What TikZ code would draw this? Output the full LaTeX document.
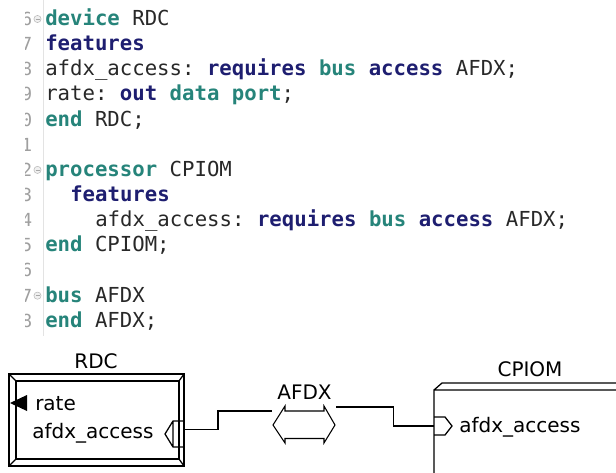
\documentclass[tikz,border=0pt]{standalone}
\usepackage{fontspec}
\setmainfont{DejaVu Sans}
\newfontfamily\codefont{DejaVu Sans Mono}
\definecolor{kwteal}{RGB}{38,132,122}
\definecolor{kwnavy}{RGB}{30,30,112}
\definecolor{codetext}{RGB}{40,40,40}
\newcommand{\kwt}[1]{\textcolor{kwteal}{\bfseries #1}}
\newcommand{\kwn}[1]{\textcolor{kwnavy}{\bfseries #1}}
\frenchspacing

\begin{document}
\begin{tikzpicture}[x=0.75pt,y=-0.75pt]
        \tikzstyle{code}=[anchor=base west,inner sep=0pt,text=codetext,font=\codefont\fontsize{15.5}{18}\selectfont];
        \tikzstyle{lnum}=[anchor=base east,inner sep=0pt,text=gray!75,font=\codefont\fontsize{13.5}{15}\selectfont];
        \tikzstyle{lbl}=[inner sep=0pt,font=\fontsize{15}{18}\selectfont];
        \tikzstyle{wire}=[line width=0.95pt];
        \useasboundingbox[fill=white] (0,0) rectangle (616,473);

        % editor margin
        \begin{scope}
          \clip (25,0) rectangle (43,340);
          \foreach \n [count=\i] in {6,7,8,9,0,1,2,3,4,5,6,7,8}{
            \node[lnum](num\i) at (32.5,{25.5+25.15*(\i-1)}) {\n};
          }
        \end{scope}
        \foreach \i in {1,7,12}{
          \draw[gray!55,fill=gray!12] (37.5,{19+25.15*(\i-1)}) circle (3.6);
          \draw[gray!70] (35.5,{19+25.15*(\i-1)}) -- (39.5,{19+25.15*(\i-1)});
        }
        \draw[gray!22] (43,0) -- (43,336);

        % source text
        \node[code](l1) at (45,25.5) {\kwt{device} RDC};
        \node[code](l2) at (45,50.7) {\kwn{features}};
        \node[code](l3) at (45,75.8) {afdx\_access: \kwn{requires} \kwt{bus} \kwn{access} AFDX;};
        \node[code](l4) at (45,101) {rate: \kwn{out} \kwt{data port};};
        \node[code](l5) at (45,126.1) {\kwt{end} RDC;};
        \node[code](l7) at (45,176.4) {\kwt{processor} CPIOM};
        \node[code](l8) at (70,201.6) {\kwn{features}};
        \node[code](l9) at (95,226.7) {afdx\_access: \kwn{requires} \kwt{bus} \kwn{access} AFDX;};
        \node[code](l10) at (45,251.9) {\kwt{end} CPIOM;};
        \node[code](l12) at (45,302.2) {\kwt{bus} AFDX};
        \node[code](l13) at (45,327.3) {\kwt{end} AFDX;};

        % device RDC
        \draw[wire] (9,374) rectangle (184,466);
        \draw[wire] (16,381) rectangle (179,459);
        \draw[wire] (9,374) -- (16,381) (184,374) -- (179,381)
          (9,466) -- (16,459) (184,466) -- (179,459);
        \node[lbl](rdc) at (96,361.5) {RDC};
        \fill (10,403) -- (27,395) -- (27,411) -- cycle;
        \node[lbl,anchor=base west](rate) at (35,410) {rate};
        \node[lbl,anchor=base west](rdcacc) at (32,438) {afdx\_access};
        \draw[wire] (184,421) -- (173,421) -- (165,434) -- (173,447) -- (184,447)
          (173,421) -- (173,447);
        \coordinate (rdcport) at (184,429.5);

        % bus AFDX
        \draw[line width=0.8pt] (273,425) -- (285,406) -- (285,411) -- (324,411) -- (324,406)
          -- (335,425) -- (324,443) -- (324,438.5) -- (285,438.5) -- (285,443) -- cycle;
        \node[lbl,anchor=base](afdx) at (304.5,399) {AFDX};
        \coordinate (busL) at (272,411);
        \coordinate (busR) at (336,407);

        % processor CPIOM
        \draw[wire] (434,473) -- (434,390) -- (616,390)
          (434,390) -- (442,383) -- (616,383);
        \node[lbl](cpiom) at (530,369) {CPIOM};
        \draw[wire] (434,417) -- (445,417) -- (452,426) -- (445,435) -- (434,435);
        \node[lbl,anchor=west](cpacc) at (459,427) {afdx\_access};
        \coordinate (cpport) at (434,426);

        \draw[wire] (rdcport) -- ++(34,0) |- (busL);
        \draw[wire] (busR) -- ++(57.5,0) |- (cpport);
\end{tikzpicture}
\end{document}
